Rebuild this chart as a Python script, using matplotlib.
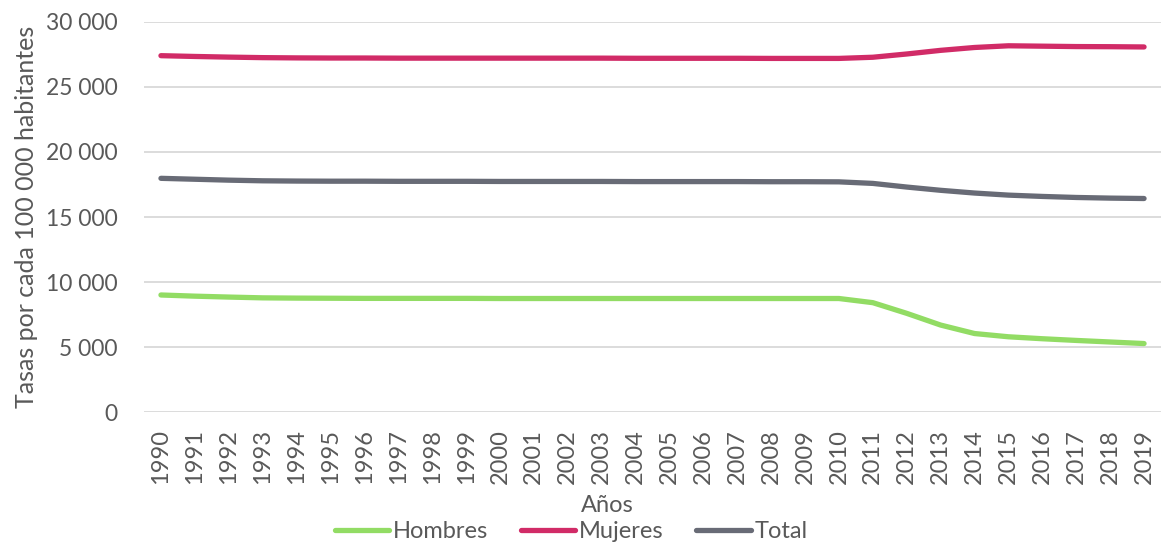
import matplotlib
matplotlib.use("Agg")
import matplotlib.pyplot as plt
from matplotlib.ticker import FuncFormatter, MultipleLocator

# Rates per 100 000 inhabitants, 1990-2019
years = [str(y) for y in range(1990, 2020)]
hombres = [9010, 8920, 8850, 8790, 8770, 8760, 8750, 8750, 8750, 8750,
           8740, 8740, 8740, 8740, 8740, 8740, 8740, 8740, 8740, 8740,
           8740, 8420, 7600, 6700, 6050, 5800, 5650, 5520, 5400, 5280]
mujeres = [27390, 27330, 27280, 27240, 27220, 27210, 27210, 27200, 27200, 27200,
           27200, 27200, 27200, 27200, 27190, 27190, 27190, 27190, 27180, 27180,
           27180, 27270, 27520, 27800, 28020, 28150, 28120, 28090, 28080, 28060]
total = [17970, 17900, 17830, 17780, 17760, 17750, 17750, 17740, 17740, 17740,
         17730, 17730, 17730, 17730, 17720, 17720, 17720, 17720, 17710, 17710,
         17700, 17580, 17300, 17050, 16840, 16680, 16580, 16500, 16450, 16420]

series_names = ["Hombres", "Mujeres", "Total"]
series_colors = ["#92DC64", "#D12B67", "#686B76"]
text_color = "#595959"

plt.rcParams["font.family"] = ["Lato", "DejaVu Sans"]

fig = plt.figure(figsize=(11.62, 5.44), dpi=100)
ax = fig.add_axes([144 / 1162, (544 - 412.3) / 544, 1017 / 1162, 390.6 / 544])

x = list(range(len(years)))
for vals, name, col in zip([hombres, mujeres, total], series_names, series_colors):
    ax.plot(x, vals, color=col, lw=3.8, label=name,
            solid_capstyle="round", solid_joinstyle="round")

ax.set_xlim(-0.5, len(years) - 0.5)
ax.set_ylim(0, 30000)
ax.yaxis.set_major_locator(MultipleLocator(5000))
ax.yaxis.set_major_formatter(
    FuncFormatter(lambda v, p: f"{int(v):,}".replace(",", " ")))
ax.set_xticks(x)
ax.set_xticklabels(years, rotation=90, va="top", ha="center")

ax.grid(axis="y", color="#D9D9D9", lw=1.3)
ax.set_axisbelow(True)
for s in ax.spines.values():
    s.set_visible(False)
ax.tick_params(axis="y", length=0, labelsize=16.5, colors=text_color, pad=19)
ax.tick_params(axis="x", length=0, labelsize=17, colors=text_color, pad=12)

ax.set_ylabel("Tasas por cada 100 000 habitantes", fontsize=18,
              color=text_color)
ax.yaxis.set_label_coords(-(144 - 27) / 1017, 0.5)
ax.yaxis.label.set_va("center")
ax.set_xlabel("Años", fontsize=17, color=text_color)
ax.xaxis.set_label_coords((607 - 144) / 1017, -(506 - 412.3) / 390.6)
ax.xaxis.label.set_va("center")

leg = fig.legend(loc="center", bbox_to_anchor=(571 / 1162, (544 - 532) / 544),
                 ncol=3, frameon=False, fontsize=17, handlelength=2.3,
                 handletextpad=0.15, columnspacing=1.4, borderpad=0)
for t in leg.get_texts():
    t.set_color(text_color)

fig.savefig("out.png", dpi=100)
